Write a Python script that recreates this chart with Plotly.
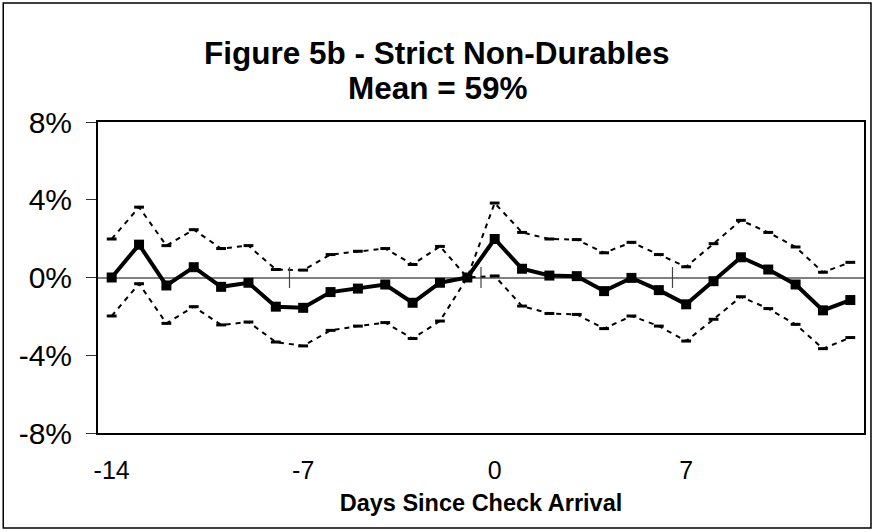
import plotly.graph_objects as go

# ---- data (percent) ----
days = list(range(-14, 14))
mean = [0.00, 1.69, -0.41, 0.53, -0.48, -0.27, -1.50, -1.56, -0.75, -0.57,
        -0.36, -1.30, -0.27, 0.00, 1.98, 0.45, 0.10, 0.07, -0.70, -0.02,
        -0.65, -1.38, -0.19, 1.04, 0.41, -0.36, -1.69, -1.16]
upper = [1.98, 3.62, 1.64, 2.46, 1.49, 1.64, 0.41, 0.38, 1.18, 1.35,
         1.49, 0.67, 1.60, 0.00, 3.83, 2.32, 1.98, 1.95, 1.27, 1.81,
         1.18, 0.55, 1.74, 2.94, 2.32, 1.57, 0.27, 0.78]
lower = [-1.98, -0.32, -2.36, -1.50, -2.44, -2.29, -3.32, -3.52, -2.72, -2.50,
         -2.32, -3.14, -2.24, 0.00, 0.08, -1.47, -1.85, -1.90, -2.63, -1.98,
         -2.50, -3.27, -2.15, -0.99, -1.60, -2.41, -3.66, -3.09]
x_tick_vals = [-14, -7, 0, 7]
x_tick_text = ["-14", "-7", "0", "7"]
y_tick_vals = [-8, -4, 0, 4, 8]
y_tick_text = ["-8%", "-4%", "0%", "4%", "8%"]
cross_ticks = [-7.5, -0.5, 6.5]

title_line1 = "Figure 5b - Strict Non-Durables"
title_line2 = "Mean = 59%"
x_title = "Days Since Check Arrival"

FONT = "Liberation Sans, Arial, sans-serif"
W, H = 877, 532
L, R, T, B = 98, 11, 122, 99
PW, PH = W - L - R, H - T - B


def px_x(p):
    return (p - L) / PW


def px_y(p):
    return (H - B - p) / PH


fig = go.Figure()
for band in (upper, lower):
    fig.add_trace(go.Scatter(
        x=days, y=band, mode="lines+markers",
        line=dict(color="black", width=2, dash="5px,5px"),
        marker=dict(symbol="line-ew", size=7, color="black",
                    line=dict(width=3, color="black")),
        hoverinfo="skip", showlegend=False))

fig.add_trace(go.Scatter(
    x=cross_ticks, y=[0] * len(cross_ticks), mode="markers",
    marker=dict(symbol="line-ns", size=15, color="#444",
                line=dict(width=1.2, color="#444")),
    hoverinfo="skip", showlegend=False))

fig.add_trace(go.Scatter(
    x=days, y=mean, mode="lines+markers",
    line=dict(color="black", width=4),
    marker=dict(symbol="square", size=10, color="black"),
    showlegend=False))

fig.update_layout(
    width=W, height=H,
    margin=dict(l=L, r=R, t=T, b=B),
    paper_bgcolor="white", plot_bgcolor="white",
    font=dict(family=FONT, color="black"),
    showlegend=False,
    xaxis=dict(
        range=[-14.5, 13.5], tickmode="array", tickvals=x_tick_vals, ticktext=x_tick_text,
        ticks="", tickfont=dict(size=25), ticklabelstandoff=14,
        showline=True, mirror=True, linecolor="black", linewidth=2,
        showgrid=False, zeroline=False,
        title=dict(text=x_title, font=dict(size=23.5, weight="bold"), standoff=12),
    ),
    yaxis=dict(
        range=[-8, 8], tickmode="array", tickvals=y_tick_vals, ticktext=y_tick_text,
        ticks="outside", ticklen=10, tickcolor="#333", tickwidth=1,
        tickfont=dict(size=30), ticklabelstandoff=8,
        showline=True, mirror=True, linecolor="black", linewidth=2,
        showgrid=False, zeroline=True, zerolinecolor="#808080", zerolinewidth=1.5,
    ),
    annotations=[
        dict(text=title_line1, xref="paper", yref="paper", x=px_x(438), y=px_y(53),
             xanchor="center", yanchor="middle", showarrow=False,
             font=dict(size=31.5, weight="bold")),
        dict(text=title_line2, xref="paper", yref="paper", x=px_x(438), y=px_y(88),
             xanchor="center", yanchor="middle", showarrow=False,
             font=dict(size=31.5, weight="bold")),
    ],
    shapes=[
        dict(type="rect", xref="paper", yref="paper",
             x0=px_x(3), x1=px_x(873), y0=px_y(528), y1=px_y(3),
             line=dict(color="black", width=1.5), layer="below"),
    ],
)

fig.write_html("out.html", config={"displayModeBar": False},
               post_script="document.body.style.margin='0px';")
